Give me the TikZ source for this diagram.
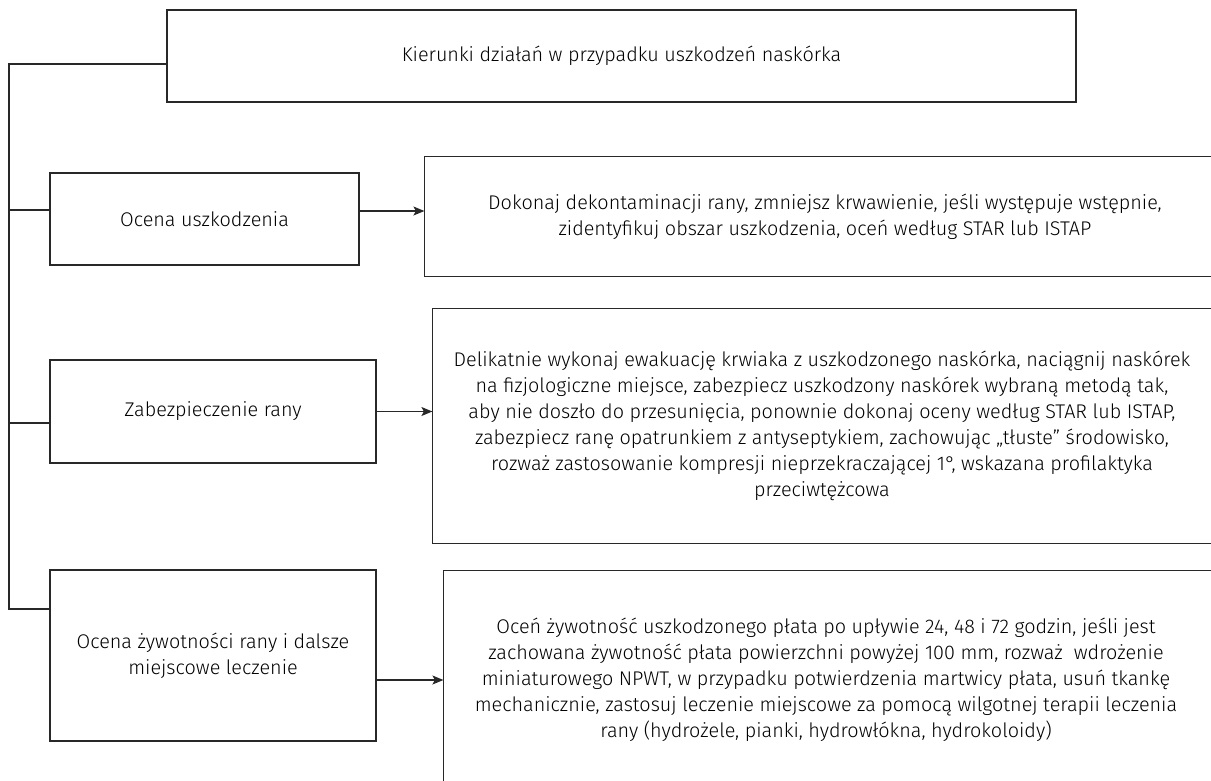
\documentclass[tikz,border=0pt]{standalone}
\usepackage{fontspec}
\setmainfont{Fira Sans Light}
\usepackage{tikz}
\usetikzlibrary{positioning,calc,arrows.meta}
\usepackage{xcolor}
\definecolor{lineink}{RGB}{40,40,40}
\definecolor{textink}{RGB}{0,0,0}

\begin{document}
\begin{tikzpicture}[
  x=1pt, y=-1pt,
  box/.style={rectangle, draw=lineink, line width=1.2pt, fill=white,
              font=\fontsize{19.8}{26}\selectfont, text=textink,
              align=center, inner sep=1pt},
  panel/.style={box, draw=none, fill=none},
  link/.style={draw=lineink, line width=1.2pt},
  arr/.style={link, -{Stealth[length=11pt, width=9pt, inset=2.5pt]}},
]
\useasboundingbox (0,0) rectangle (1211,780);
%─── Heading box ───────────────────────────────────────────────────────────
\node[box, minimum width=909pt, minimum height=92pt] (head) at (621.5,56)
  {Kierunki działań w przypadku uszkodzeń naskórka};
%─── Left column: stages ───────────────────────────────────────────────────
\node[box, minimum width=309pt, minimum height=92pt] (ocena) at (204.5,219)
  {Ocena uszkodzenia};
\node[box, minimum width=326pt, minimum height=103pt] (zabezp) at (213,411.5)
  {Zabezpieczenie rany};
\node[box, minimum width=326pt, minimum height=171pt] (zywot) at (213,655.5)
  {Ocena żywotności rany i dalsze\\miejscowe leczenie};
%─── Right column: actions (frames run past the right edge) ───────────────
\node[panel, minimum width=800pt, minimum height=119pt] (dekont) at (825,216.5)
  {Dokonaj dekontaminacji rany, zmniejsz krwawienie, jeśli występuje wstępnie,\\
   zidentyfikuj obszar uszkodzenia, oceń według STAR lub ISTAP};
\node[panel, minimum width=778pt, minimum height=234pt] (ewak) at (822,426)
  {Delikatnie wykonaj ewakuację krwiaka z uszkodzonego naskórka, naciągnij naskórek\\
   na fizjologiczne miejsce, zabezpiecz uszkodzony naskórek wybraną metodą tak,\\
   aby nie doszło do przesunięcia, ponownie dokonaj oceny według STAR lub ISTAP,\\
   zabezpiecz ranę opatrunkiem z antyseptykiem, zachowując „tłuste” środowisko,\\
   rozważ zastosowanie kompresji nieprzekraczającej 1°, wskazana profilaktyka\\
   przeciwtężcowa};
\node[panel, minimum width=764pt, minimum height=218pt] (leczenie) at (826,680)
  {Oceń żywotność uszkodzonego płata po upływie 24, 48 i 72 godzin, jeśli jest\\
   zachowana żywotność płata powierzchni powyżej 100 mm, rozważ\ \ wdrożenie\\
   miniaturowego NPWT, w przypadku potwierdzenia martwicy płata, usuń tkankę\\
   mechanicznie, zastosuj leczenie miejscowe za pomocą wilgotnej terapii leczenia\\
   rany (hydrożele, pianki, hydrowłókna, hydrokoloidy)};
\foreach \p in {dekont,ewak,leczenie}
  \draw[link] (\p.north west) rectangle ([xshift=40pt]\p.south east);
%─── Spine on the left ─────────────────────────────────────────────────────
\coordinate (s0) at (9,64);
\coordinate (s1) at (9,210);
\coordinate (s2) at (9,423);
\coordinate (s3) at (9,609);
\draw[link] (s0 -| head.west) -- (s0) -- (s3) -- (s3 -| zywot.west);
\draw[link] (s1) -- (s1 -| ocena.west);
\draw[link] (s2) -- (s2 -| zabezp.west);
%─── Arrows to actions ─────────────────────────────────────────────────────
\draw[arr] ([yshift=8pt]ocena.east) -- ([yshift=8pt]ocena.east -| dekont.west);
\draw[arr] (zabezp.east) -- (zabezp.east -| ewak.west);
\draw[arr] (leczenie.west -| zywot.east) -- (leczenie.west);
\end{tikzpicture}
\end{document}
